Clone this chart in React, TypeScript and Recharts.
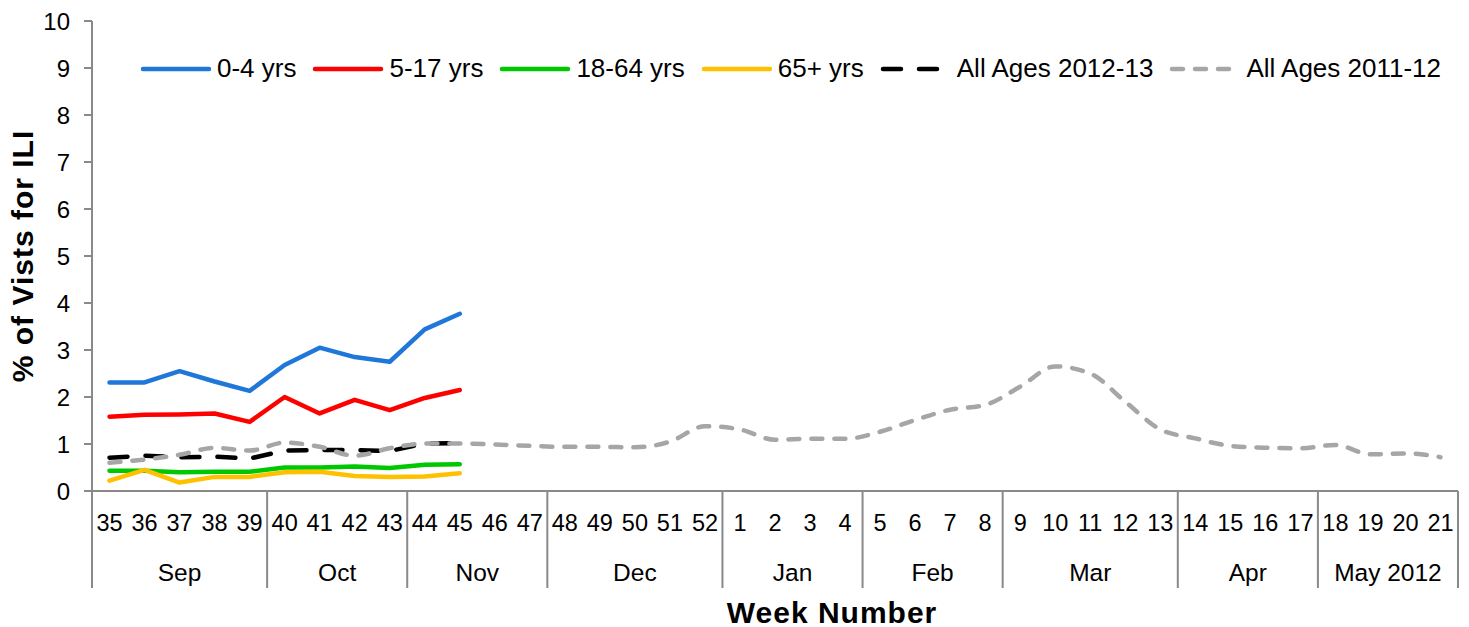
import React from 'react';
import { LineChart, Line, XAxis, YAxis, Legend } from 'recharts';

const weeks = ['35','36','37','38','39','40','41','42','43','44','45','46','47','48','49','50','51','52','1','2','3','4','5','6','7','8','9','10','11','12','13','14','15','16','17','18','19','20','21'];
const monthLabels = ['Sep','Oct','Nov','Dec','Jan','Feb','Mar','Apr','May 2012'];
const monthWeekCounts = [5,4,4,5,4,4,5,4,4];
const yTicks = [0,1,2,3,4,5,6,7,8,9,10];

const age0to4 = [2.31,2.31,2.55,2.33,2.13,2.68,3.05,2.85,2.75,3.44,3.77];
const age5to17 = [1.58,1.62,1.63,1.65,1.47,2.00,1.65,1.94,1.72,1.98,2.15];
const age18to64 = [0.43,0.43,0.40,0.41,0.41,0.50,0.50,0.52,0.49,0.56,0.57];
const age65plus = [0.22,0.45,0.18,0.30,0.30,0.40,0.41,0.32,0.30,0.31,0.38];
const allAges1213 = [0.71,0.75,0.72,0.73,0.69,0.86,0.87,0.87,0.85,1.01,1.02];
const allAges1112 = [0.60,0.67,0.77,0.92,0.86,1.03,0.94,0.75,0.91,1.01,1.01,0.99,0.96,0.94,0.94,0.93,1.05,1.38,1.31,1.09,1.11,1.11,1.26,1.51,1.73,1.83,2.22,2.65,2.50,1.90,1.31,1.12,0.96,0.92,0.91,0.98,0.78,0.80,0.72];

const series = [
  { key: 'a', name: '0-4 yrs', values: age0to4, color: '#1F77D9', dash: undefined, type: 'linear' },
  { key: 'b', name: '5-17 yrs', values: age5to17, color: '#FF0000', dash: undefined, type: 'linear' },
  { key: 'c', name: '18-64 yrs', values: age18to64, color: '#00C800', dash: undefined, type: 'linear' },
  { key: 'd', name: '65+ yrs', values: age65plus, color: '#FFC000', dash: undefined, type: 'linear' },
  { key: 'e', name: 'All Ages 2012-13', values: allAges1213, color: '#000000', dash: '18 18', type: 'linear' },
  { key: 'f', name: 'All Ages 2011-12', values: allAges1112, color: '#A6A6A6', dash: '11 12', type: 'monotone' },
];

const data = weeks.map((w, i) => {
  const row: any = { week: w };
  series.forEach((s) => {
    row[s.key] = i < s.values.length ? s.values[i] : null;
  });
  return row;
});

const W = 1469;
const H = 627;
const LEFT = 92;
const RIGHT = 11;
const TOP = 21;
const PLOT_BOTTOM = 491;
const BW = (W - LEFT - RIGHT) / weeks.length;
const FONT = '"Liberation Sans", Arial, sans-serif';
const AXIS_COLOR = '#898989';

const groupStarts: number[] = [];
{
  let acc = 0;
  monthWeekCounts.forEach((c) => { groupStarts.push(acc); acc += c; });
}

const WeekTick = (props: any) => {
  const { x, payload } = props;
  const i = payload && payload.index !== undefined ? payload.index : props.index;
  const g = groupStarts.indexOf(i);
  const isLast = i === weeks.length - 1;
  return (
    <g>
      <text x={x} y={531} textAnchor="middle" fontSize={23.5} fontFamily={FONT} fill="#000">{payload.value}</text>
      {g >= 0 && (
        <line x1={x - BW / 2} y1={PLOT_BOTTOM} x2={x - BW / 2} y2={588} stroke={AXIS_COLOR} strokeWidth={2} />
      )}
      {isLast && (
        <line x1={x + BW / 2} y1={PLOT_BOTTOM} x2={x + BW / 2} y2={588} stroke={AXIS_COLOR} strokeWidth={2} />
      )}
      {g >= 0 && (
        <text x={x + ((monthWeekCounts[g] - 1) / 2) * BW} y={581} textAnchor="middle" fontSize={24.5} fontFamily={FONT} fill="#000">{monthLabels[g]}</text>
      )}
    </g>
  );
};

const renderLegend = () => (
  <div style={{ display: 'flex', alignItems: 'center', fontFamily: FONT, fontSize: 26, color: '#000', whiteSpace: 'nowrap' }}>
    {series.map((s) => (
      <div key={s.key} style={{ display: 'flex', alignItems: 'center', marginRight: 16 }}>
        <svg width={72} height={12}>
          <line x1={3} y1={6} x2={69} y2={6} stroke={s.color} strokeWidth={4.5} strokeLinecap="round" strokeDasharray={s.dash} />
        </svg>
        <span style={{ marginLeft: 5 }}>{s.name}</span>
      </div>
    ))}
  </div>
);

export default function App() {
  return (
    <div style={{ position: 'absolute', left: 0, top: 0, width: W, height: H, background: '#fff' }}>
      <LineChart width={W} height={H} data={data} margin={{ top: TOP, right: RIGHT, bottom: 0, left: 0 }}>
        <XAxis
          dataKey="week"
          interval={0}
          height={H - PLOT_BOTTOM}
          padding={{ left: BW / 2, right: BW / 2 }}
          tickLine={false}
          axisLine={{ stroke: AXIS_COLOR, strokeWidth: 2 }}
          tick={<WeekTick />}
          label={{
            content: () => (
              <text x={832} y={612} textAnchor="middle" dominantBaseline="central" fontSize={30} letterSpacing={1} fontWeight="bold" fontFamily={FONT} fill="#000">Week Number</text>
            ),
          }}
        />
        <YAxis
          width={LEFT}
          domain={[0, 10]}
          ticks={yTicks}
          interval={0}
          tickSize={8}
          tickMargin={14}
          axisLine={{ stroke: AXIS_COLOR, strokeWidth: 2 }}
          tickLine={{ stroke: AXIS_COLOR, strokeWidth: 2 }}
          tick={{ fill: '#000', fontSize: 24, fontFamily: FONT }}
          label={{
            content: () => (
              <text x={22} y={256} transform="rotate(-90, 22, 256)" textAnchor="middle" dominantBaseline="central" fontSize={30} letterSpacing={1} fontWeight="bold" fontFamily={FONT} fill="#000">% of Vists for ILI</text>
            ),
          }}
        />
        <Legend
          layout="horizontal"
          verticalAlign="middle"
          align="center"
          content={renderLegend}
          wrapperStyle={{ position: 'absolute', top: 53, left: 140, width: 1329, height: 30 }}
        />
        {series.map((s) => (
          <Line
            key={s.key}
            dataKey={s.key}
            name={s.name}
            type={s.type as any}
            stroke={s.color}
            strokeWidth={4.5}
            strokeDasharray={s.dash}
            strokeLinecap="round"
            strokeLinejoin="round"
            dot={false}
            activeDot={false}
            isAnimationActive={false}
          />
        ))}
      </LineChart>
    </div>
  );
}
